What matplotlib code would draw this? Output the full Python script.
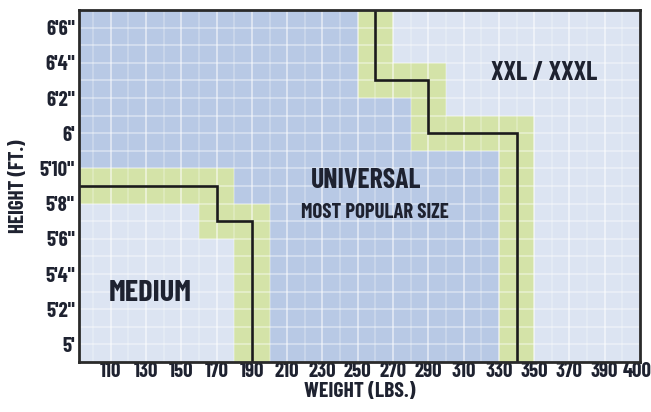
import matplotlib
matplotlib.use("Agg")
import matplotlib.pyplot as plt
from matplotlib.patches import Polygon, Rectangle

# axis ticks: weight in lbs, height in inches
weight_ticks = [110, 130, 150, 170, 190, 210, 230, 250, 270, 290, 310, 330, 350, 370, 390, 400]
height_ticks = [60, 62, 64, 66, 68, 70, 72, 74, 76, 78]
height_labels = ["5'", "5'2\"", "5'4\"", "5'6\"", "5'8\"", "5'10\"", "6'", "6'2\"", "6'4\"", "6'6\""]

# MEDIUM / UNIVERSAL boundary steps
medium_w = [170, 190]
medium_h = [69, 67]
# UNIVERSAL / XXL boundary steps
xxl_w = [260, 290, 340]
xxl_h = [75, 72]

XLIM = (92, 410)
YLIM = (59, 79)

BG = "#dce4f2"
UNI = "#b8c9e5"
GREEN = "#d4e3a8"
LINE = "#1b1b1b"
TXT = "#1e2230"

plt.rcParams["font.family"] = ["Barlow Condensed", "Roboto Condensed", "DejaVu Sans"]
plt.rcParams["font.weight"] = "bold"
FONT = dict(fontweight="bold", color=TXT)


def medium_path():
    pts = [(XLIM[0], medium_h[0])]
    for i, w in enumerate(medium_w):
        pts.append((w, medium_h[i]))
        nxt = medium_h[i + 1] if i + 1 < len(medium_h) else YLIM[0]
        pts.append((w, nxt))
    return pts


def xxl_path():
    pts = [(xxl_w[0], YLIM[1])]
    for i, w in enumerate(xxl_w):
        if i < len(xxl_h):
            pts.append((w, xxl_h[i]))
            pts.append((xxl_w[i + 1], xxl_h[i]))
        else:
            pts.append((w, YLIM[0]))
    return pts


def band(ax, pts, dw=10, dh=1):
    # light green zone around each boundary segment
    for (xa, ya), (xb, yb) in zip(pts[:-1], pts[1:]):
        x0, x1 = min(xa, xb) - dw, max(xa, xb) + dw
        y0, y1 = min(ya, yb) - dh, max(ya, yb) + dh
        ax.add_patch(Rectangle((x0, y0), x1 - x0, y1 - y0, color=GREEN, lw=0, zorder=2))


fig = plt.figure(figsize=(6.51, 4.12), dpi=100)
ax = fig.add_axes([79 / 651, 50 / 412, 561 / 651, 352 / 412])
ax.set_xlim(*XLIM)
ax.set_ylim(*YLIM)
ax.set_facecolor(BG)

mp = medium_path()
xp = xxl_path()

uni = [(XLIM[0], YLIM[1])] + xp + mp[::-1]
ax.add_patch(Polygon(uni, closed=True, color=UNI, lw=0, zorder=1))

band(ax, mp)
band(ax, xp)

# white grid
for w in range(100, 411, 10):
    ax.axvline(w, color="white", lw=1.3, alpha=0.55 if w % 20 == 10 else 0.25, zorder=3)
for h in range(60, 79):
    ax.axhline(h, color="white", lw=1.3, alpha=0.4, zorder=3)

ax.plot(*zip(*mp), color=LINE, lw=1.9, zorder=4, solid_joinstyle="miter")
ax.plot(*zip(*xp), color=LINE, lw=1.9, zorder=4, solid_joinstyle="miter")

ax.text(132.5, 62.9, "MEDIUM", ha="center", va="center", fontsize=22, zorder=5, **FONT)
ax.text(255, 69.3, "UNIVERSAL", ha="center", va="center", fontsize=20, zorder=5, **FONT)
ax.text(259.5, 67.5, "MOST POPULAR SIZE", ha="center", va="center", fontsize=15, zorder=5, **FONT)
ax.text(355.5, 75.4, "XXL / XXXL", ha="center", va="center", fontsize=19, zorder=5, **FONT)

ax.set_xticks(weight_ticks)
ax.set_xticklabels([str(w) for w in weight_ticks])
ax.set_yticks(height_ticks)
ax.set_yticklabels(height_labels)
for lab in ax.get_xticklabels() + ax.get_yticklabels():
    lab.set_fontsize(15)
    lab.set_fontweight("bold")
    lab.set_color(TXT)
ax.get_xticklabels()[-1].set_horizontalalignment("left")
ax.tick_params(axis="x", length=0, pad=0)
ax.tick_params(axis="y", length=0, pad=3)

ax.set_xlabel("WEIGHT (LBS.)", fontsize=15.5, labelpad=1, **FONT)
ax.set_ylabel("HEIGHT (FT.)", fontsize=15, labelpad=8, **FONT)

for s in ax.spines.values():
    s.set_linewidth(2)
    s.set_color("#2a2a2a")
    s.set_zorder(6)

fig.savefig("out.png", dpi=100)
